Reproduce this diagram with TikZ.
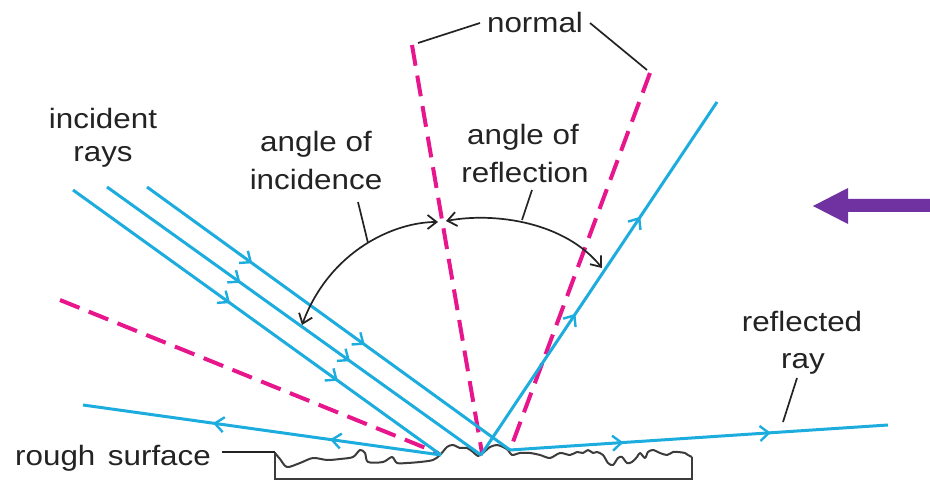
\documentclass[tikz,border=0pt]{standalone}
\usepackage{fontspec}
\setmainfont{Liberation Sans}[FakeStretch=1.12]
\usetikzlibrary{arrows.meta,decorations.markings}
\definecolor{raycol}{RGB}{28,172,222}
\definecolor{normcol}{RGB}{232,22,140}
\definecolor{inkcol}{RGB}{35,35,35}
\definecolor{surfcol}{RGB}{60,60,60}
\definecolor{purplecol}{RGB}{112,50,160}
\tikzset{
  raytip/.tip={Straight Barb[length=9pt,width=15pt,line width=2.4pt]},
  arctip/.tip={Straight Barb[length=9pt,width=14pt,line width=1.8pt]},
  ray/.style={draw=raycol, line width=3pt},
  normalline/.style={draw=normcol, line width=4pt, dash pattern=on 21pt off 10pt},
  lead/.style={draw=inkcol, line width=1.7pt},
  arcline/.style={draw=inkcol, line width=1.7pt, arctip-arctip},
  lbl/.style={text=inkcol, inner sep=0pt, font=\fontsize{28}{33}\selectfont},
  twomarks/.style 2 args={postaction={decorate, decoration={markings,
      mark=at position #1 with {\arrow{raytip}},
      mark=at position #2 with {\arrow{raytip}}}}}
}
\begin{document}
\begin{tikzpicture}[x=1pt,y=-1pt]
\useasboundingbox (0,0) rectangle (930,481);

% points on the surface
\coordinate (hA) at (441,455);
\coordinate (hB) at (481,455);
\coordinate (hC) at (510,450);

% surface box
\draw[draw=surfcol, line width=1.7pt] (275,452) -- (275,479) -- (692,479) -- (692,457);
\draw[draw=surfcol, line width=2pt, line join=round] plot[smooth, tension=0.5] coordinates {
 (275,453) (280,459) (287,467) (300,463) (313,458) (327,460) (340,459) (353,457) (360,450)
 (365,453) (368,462) (383,462) (392,457) (397,463) (407,463) (420,462) (433,460) (440,455)
 (447,447) (453,445) (460,448) (467,448) (473,452) (478,456) (483,453) (490,447) (497,445)
 (503,447) (508,450) (512,455) (520,453) (530,453) (540,455) (550,458) (560,453) (570,455)
 (577,452) (583,453) (588,450) (593,453) (597,452) (603,455) (608,463) (613,465) (618,458)
 (622,457) (627,463) (632,462) (637,457) (640,453) (645,458) (648,452) (653,450) (660,453)
 (667,455) (673,452) (678,452) (685,453) (688,455) (692,457)};

% normals
\coordinate (nLt) at (60,300);
\coordinate (nMt) at (412,45);
\coordinate (nRt) at (650,73);
\draw[normalline] (nLt) -- (438,453);
\draw[normalline] (nMt) -- (482,453);
\draw[normalline] (nRt) -- (hC);

% incident rays
\coordinate (iA) at (73,190);
\coordinate (iB) at (107,187);
\coordinate (iC) at (147,187);
\draw[ray, twomarks={0.427}{0.72}] (iA) -- (hA);
\draw[ray, twomarks={0.357}{0.65}] (iB) -- (hB);
\draw[ray, twomarks={0.29}{0.60}] (iC) -- (hC);

% reflected rays
\coordinate (rA) at (83,405);
\coordinate (rB) at (717,102);
\coordinate (rC) at (888,425);
\draw[ray, twomarks={0.31}{0.637}] (hA) -- (rA);
\draw[ray, twomarks={0.40}{0.675}] (hB) -- (rB);
\draw[ray, twomarks={0.30}{0.69}] (hC) -- (rC);

% angle arcs
\coordinate (ai1) at (302,325);
\coordinate (ai2) at (438,222);
\coordinate (ar1) at (446,221);
\coordinate (ar2) at (602,268);
\draw[arcline] (ai1) .. controls (330,250) and (395,222) .. (ai2);
\draw[arcline] (ar1) .. controls (495,212) and (565,222) .. (ar2);

% labels
\node[lbl, anchor=base] (inc1) at (103,129) {incident};
\node[lbl, anchor=base] (inc2) at (103,162) {rays};
\node[lbl, anchor=base] (ai1t) at (316,152) {angle of};
\node[lbl, anchor=base] (ai2t) at (316,190) {incidence};
\node[lbl, anchor=base] (ar1t) at (523,145) {angle of};
\node[lbl, anchor=base] (ar2t) at (525,183) {reflection};
\node[lbl, anchor=base] (nor) at (535,33) {normal};
\node[lbl, anchor=base] (ref1) at (802,332) {reflected};
\node[lbl, anchor=base] (ref2) at (803,368) {ray};
\node[lbl, anchor=base west] (rough) at (15,465) {rough\hspace{0.45em}surface};

% leader lines
\coordinate (lI1) at (358,202); \coordinate (lI2) at (368,243);
\coordinate (lR1) at (532,190); \coordinate (lR2) at (522,220);
\coordinate (lN1) at (480,23);  \coordinate (lN2) at (418,43);
\coordinate (lN3) at (590,23);  \coordinate (lN4) at (647,70);
\coordinate (lF1) at (797,378); \coordinate (lF2) at (783,422);
\coordinate (lS1) at (222,452); \coordinate (lS2) at (275,452);
\draw[lead] (lI1) -- (lI2);
\draw[lead] (lR1) -- (lR2);
\draw[lead] (lN1) -- (lN2);
\draw[lead] (lN3) -- (lN4);
\draw[lead] (lF1) -- (lF2);
\draw[lead] (lS1) -- (lS2);

% purple pointer
\coordinate (pTip) at (813,206);
\fill[purplecol] (931,199) -- (848,199) -- (848,188) -- (pTip) -- (848,224) -- (848,212) -- (931,212) -- cycle;
\end{tikzpicture}
\end{document}
